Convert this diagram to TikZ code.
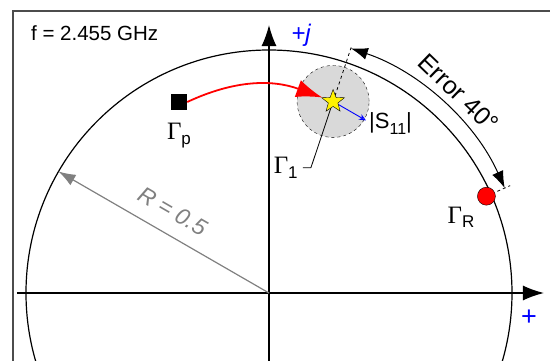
\documentclass[tikz,border=0pt]{standalone}
\usepackage{fontspec}
\setmainfont{Liberation Sans}
\newfontfamily\gfont{Liberation Serif}
\usetikzlibrary{shapes.geometric, arrows.meta, positioning}

\newcommand{\Gam}[1]{{\gfont\fontsize{25}{25}\selectfont Γ}\raisebox{-0.4ex}{\fontsize{17}{17}\selectfont #1}}

\begin{document}
\begin{tikzpicture}[x=1pt, y=1pt,
    lbl/.style={font=\fontsize{20.5}{23}\selectfont, inner sep=1pt},
    axis/.style={-{Latex[length=21pt, width=15pt]}, line width=1.3pt},
    pmark/.style={rectangle, fill=black, minimum size=16pt, inner sep=0pt},
    rmark/.style={circle, draw=black, fill=red, minimum size=18pt, inner sep=0pt},
    starmark/.style={star, star points=5, star point ratio=2.4, draw=black, fill=yellow, minimum size=24pt, inner sep=0pt},
    errdisc/.style={circle, draw=black, dashed, fill=gray!30, minimum size=72pt, inner sep=0pt},
    movearr/.style={-{Latex[length=26pt, width=18pt]}, red, line width=1.8pt},
    errarr/.style={{Latex[length=17pt, width=12pt]}-{Latex[length=17pt, width=12pt]}, line width=1pt},
    radarr/.style={-{Latex[length=17pt, width=12pt]}, gray, line width=1.2pt},
    s11arr/.style={-{Stealth[length=7pt, width=6pt, open]}, blue, line width=0.9pt}
]
    \path[use as bounding box] (-269,-67) rectangle (281,293);
    \clip (-269,-67) rectangle (281,293);

    % Frame and chart
    \draw[black!70, line width=1.5pt] (-256,-90) rectangle (300,282);
    \draw[line width=1.2pt] (0,0) circle[radius=243pt];
    \draw[axis] (-252,0) -- (275,0);
    \draw[axis] (0,-80) -- (0,268);
    \node[lbl, blue, font=\fontsize{24}{26}\selectfont\itshape] (jlab) at (32,258) {+j};
    \node[lbl, blue, font=\fontsize{27}{28}\selectfont] (relab) at (260,-25) {+};
    \node[lbl, anchor=west] (freq) at (-239,260) {f = 2.455 GHz};

    % Radius
    \coordinate (o) at (0,0);
    \coordinate (rtip) at (150:243pt);
    \draw[radarr] (o) -- (rtip);
    \node[lbl, gray, font=\fontsize{23}{25}\selectfont\itshape, rotate=-30] (rlab) at (-96,82) {R = 0.5};

    % Error region
    \node[errdisc] (disc) at (71.5:202pt) {};
    \coordinate (g1foot) at (71.5:132pt);
    \coordinate (rayend) at (71.5:262pt);
    \node[lbl, anchor=east, inner sep=5pt] (g1lab) at ([xshift=-8pt]g1foot) {\Gam{1}};
    \draw[line width=0.8pt] (disc.center) -- (g1foot) -- (g1lab);
    \draw[dashed, line width=0.8pt] (disc.center) -- (rayend);
    \coordinate (s11end) at ([shift={(-30:38pt)}]disc.center);
    \draw[s11arr] (disc.center) -- (s11end);
    \node[lbl, anchor=west, font=\fontsize{22}{24}\selectfont] (s11lab) at ([xshift=2pt, yshift=-3pt]s11end) {|S\raisebox{-0.45ex}{\fontsize{16}{16}\selectfont 11}|};
    \node[starmark] (g1) at (disc.center) {};

    % Points
    \node[pmark] (gp) at (-90,191) {};
    \node[lbl, below=12pt of gp] (gplab) {\Gam{p}};
    \node[rmark] (gr) at (24:238pt) {};
    \node[lbl] (grlab) at (192,76) {\Gam{R}};
    \draw[movearr] (gp.east) to[out=25, in=160] (g1);

    % Angle error
    \coordinate (tickin) at (24:250pt);
    \coordinate (tickout) at (24:264pt);
    \draw[dashed, line width=0.8pt] (tickin) -- (tickout);
    \draw[errarr] (71.5:258pt) arc[start angle=71.5, end angle=24, radius=258pt];
    \node[lbl, font=\fontsize{25}{27}\selectfont, rotate=-44] (errlab) at (46.5:276pt) {Error 40°};

\end{tikzpicture}
\end{document}
